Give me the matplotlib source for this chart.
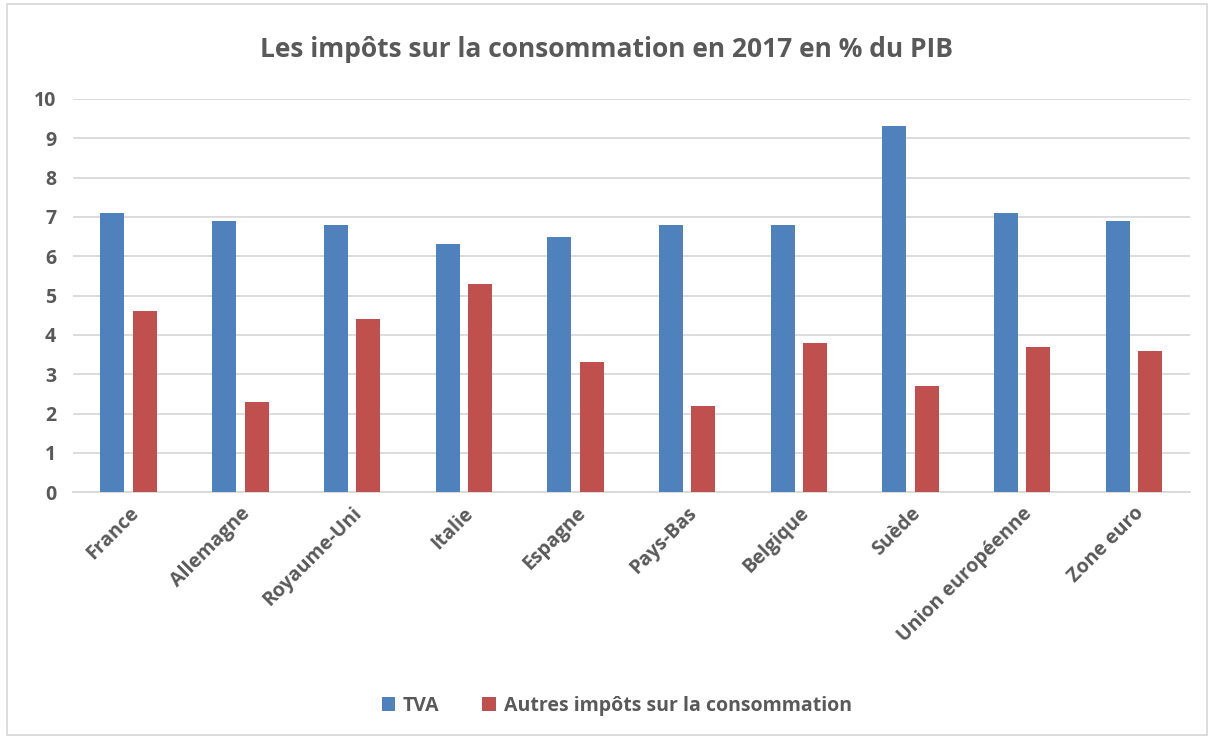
import numpy as np
import matplotlib.pyplot as plt
from matplotlib.patches import Rectangle

categories = ["France", "Allemagne", "Royaume-Uni", "Italie", "Espagne",
              "Pays-Bas", "Belgique", "Suède", "Union européenne", "Zone euro"]
tva = [7.1, 6.9, 6.8, 6.3, 6.5, 6.8, 6.8, 9.3, 7.1, 6.9]
autres = [4.6, 2.3, 4.4, 5.3, 3.3, 2.2, 3.8, 2.7, 3.7, 3.6]

plt.rcParams['font.family'] = ['Open Sans', 'DejaVu Sans']
text_col = '#595959'

fig = plt.figure(figsize=(12.14, 7.38), dpi=100)
ax = fig.add_axes([0.060, 0.333, 0.920, 0.533])

x = np.arange(len(categories))
w = 0.215
ax.bar(x - 0.145, tva, w, color='#4F81BD', label='TVA', zorder=3)
ax.bar(x + 0.145, autres, w, color='#C0504D',
       label='Autres impôts sur la consommation', zorder=3)

ax.set_xlim(-0.5, len(categories) - 0.5)
ax.set_ylim(0, 10)
ax.set_yticks(range(0, 11))
ax.grid(axis='y', color='#D9D9D9', linewidth=1.3, zorder=0)
for s in ['top', 'right', 'left']:
    ax.spines[s].set_visible(False)
ax.spines['bottom'].set_color('#D9D9D9')
ax.spines['bottom'].set_linewidth(1.3)
ax.tick_params(length=0, labelcolor=text_col, labelsize=14, pad=8)
ax.tick_params(axis='y', pad=12)
ax.set_xticks(x)
ax.set_xticklabels(categories, rotation=45, ha='right', rotation_mode='anchor',
                   fontweight='bold')
for t in ax.get_yticklabels():
    t.set_fontweight('bold')

fig.text(0.5, 0.933, 'Les impôts sur la consommation en 2017 en % du PIB',
         ha='center', va='center', fontsize=19, fontweight='bold', color=text_col)

leg = fig.legend(loc='center', bbox_to_anchor=(0.508, 0.044), ncol=2, frameon=False,
                 handlelength=0.7, handleheight=0.7, columnspacing=2.2,
                 handletextpad=0.4, prop={'size': 14, 'weight': 'bold'})
for t in leg.get_texts():
    t.set_color(text_col)

fig.patches.append(Rectangle((0.006, 0.004), 0.988, 0.99, transform=fig.transFigure,
                             fill=False, edgecolor='#D9D9D9', linewidth=1.3))

fig.savefig('out.png', dpi=100)
